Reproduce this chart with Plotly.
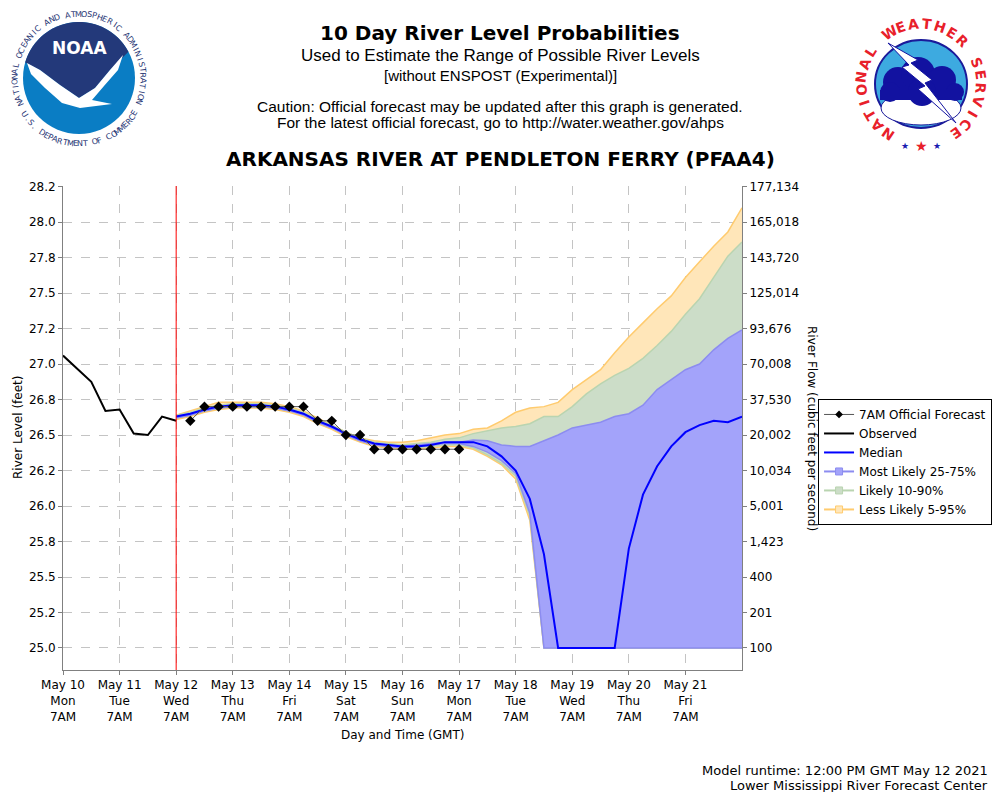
import math
import pandas as pd
import plotly.graph_objects as go

# ---- data -------------------------------------------------------------
obs_start = "2021-05-10 07:00"
fcst_start = "2021-05-12 07:00"

observed = [27.06, 26.97, 26.875, 26.67, 26.68, 26.51, 26.50, 26.63, 26.60]

# 7AM official forecast, 6-hourly from May 12 13:00
official = [26.6, 26.7, 26.7, 26.7, 26.7, 26.7, 26.7, 26.7, 26.7, 26.6,
            26.6, 26.5, 26.5, 26.4, 26.4, 26.4, 26.4, 26.4, 26.4, 26.4]

# ensemble quantiles, 6-hourly from May 12 07:00 (41 steps)
median = [26.63, 26.65, 26.68, 26.70, 26.71, 26.71, 26.71, 26.70, 26.68, 26.65,
          26.60, 26.56, 26.51, 26.47, 26.44, 26.43, 26.42, 26.42, 26.43, 26.45,
          26.45, 26.45, 26.42, 26.35, 26.25, 26.05, 25.66, 25.00, 25.00, 25.00,
          25.00, 25.00, 25.70, 26.08, 26.28, 26.42, 26.52, 26.57, 26.60, 26.59,
          26.63]
p95 = [26.64, 26.67, 26.70, 26.73, 26.73, 26.73, 26.73, 26.72, 26.70, 26.67,
       26.62, 26.57, 26.52, 26.48, 26.46, 26.45, 26.45, 26.46, 26.48, 26.50,
       26.51, 26.54, 26.55, 26.60, 26.66, 26.69, 26.70, 26.73, 26.82, 26.89,
       26.96, 27.08, 27.19, 27.29, 27.39, 27.48, 27.61, 27.72, 27.83, 27.93,
       28.10]
p90 = [26.64, 26.66, 26.69, 26.71, 26.72, 26.72, 26.72, 26.71, 26.69, 26.66,
       26.61, 26.57, 26.52, 26.48, 26.45, 26.44, 26.43, 26.44, 26.45, 26.47,
       26.48, 26.51, 26.53, 26.55, 26.56, 26.58, 26.63, 26.63, 26.70, 26.79,
       26.86, 26.92, 26.97, 27.04, 27.13, 27.23, 27.35, 27.46, 27.61, 27.76,
       27.86]
p75 = [26.63, 26.65, 26.68, 26.70, 26.71, 26.71, 26.71, 26.70, 26.68, 26.65,
       26.60, 26.56, 26.51, 26.47, 26.44, 26.43, 26.42, 26.43, 26.44, 26.45,
       26.45, 26.465, 26.46, 26.43, 26.42, 26.42, 26.46, 26.50, 26.55, 26.57,
       26.59, 26.63, 26.65, 26.71, 26.82, 26.89, 26.96, 27.00, 27.10, 27.18,
       27.24]
p25 = [26.62, 26.64, 26.67, 26.69, 26.70, 26.70, 26.70, 26.69, 26.67, 26.64,
       26.59, 26.55, 26.50, 26.46, 26.43, 26.42, 26.41, 26.42, 26.43, 26.44,
       26.44, 26.42, 26.38, 26.32, 26.23, 25.95, 25.00, 25.00, 25.00, 25.00,
       25.00, 25.00, 25.00, 25.00, 25.00, 25.00, 25.00, 25.00, 25.00, 25.00,
       25.00]
p10 = [26.62, 26.64, 26.67, 26.69, 26.70, 26.70, 26.70, 26.69, 26.67, 26.64,
       26.59, 26.55, 26.50, 26.46, 26.43, 26.42, 26.41, 26.41, 26.42, 26.43,
       26.43, 26.41, 26.36, 26.30, 26.21, 25.93, 25.00, 25.00, 25.00, 25.00,
       25.00, 25.00, 25.00, 25.00, 25.00, 25.00, 25.00, 25.00, 25.00, 25.00,
       25.00]
p5 = [26.61, 26.63, 26.66, 26.68, 26.69, 26.69, 26.69, 26.68, 26.66, 26.63,
      26.58, 26.54, 26.49, 26.45, 26.42, 26.41, 26.40, 26.40, 26.41, 26.42,
      26.42, 26.40, 26.35, 26.29, 26.19, 25.90, 25.00, 25.00, 25.00, 25.00,
      25.00, 25.00, 25.00, 25.00, 25.00, 25.00, 25.00, 25.00, 25.00, 25.00,
      25.00]

stage_ticks = [25.0, 25.25, 25.5, 25.75, 26.0, 26.25, 26.5, 26.75, 27.0,
               27.25, 27.5, 27.75, 28.0, 28.25]
stage_labels = ["25.0", "25.2", "25.5", "25.8", "26.0", "26.2", "26.5", "26.8",
                "27.0", "27.2", "27.5", "27.8", "28.0", "28.2"]
flow_labels = ["100", "201", "400", "1,423", "5,001", "10,034", "20,002",
               "37,530", "70,008", "93,676", "125,014", "143,720", "165,018",
               "177,134"]

day_ticks = pd.date_range("2021-05-10 07:00", periods=12, freq="D")
day_labels = [d.strftime("%b ") + str(d.day) + "<br>" + d.strftime("%a") + "<br>7AM"
              for d in day_ticks]

t_obs = pd.date_range(obs_start, periods=len(observed), freq="6h")
t_fc = pd.date_range(fcst_start, periods=len(median), freq="6h")
t_off = t_fc[1:len(official) + 1]

FONT = "DejaVu Sans"
ORANGE_FILL, ORANGE_LINE = "#FFE6B9", "#FFCB6E"
GREEN_FILL, GREEN_LINE = "#CCDDC8", "#B9D4B0"
BLUE_FILL, BLUE_LINE = "#A3A3FA", "#8C8CF0"

fig = go.Figure()

# bands (widest first)
for lo, hi, fc, lc in [(p5, p95, ORANGE_FILL, ORANGE_LINE),
                       (p10, p90, GREEN_FILL, GREEN_LINE),
                       (p25, p75, BLUE_FILL, BLUE_LINE)]:
    fig.add_trace(go.Scatter(x=t_fc, y=lo, mode="lines", line=dict(color=lc, width=1.5),
                             showlegend=False, hoverinfo="skip"))
    fig.add_trace(go.Scatter(x=t_fc, y=hi, mode="lines", line=dict(color=lc, width=1.5),
                             fill="tonexty", fillcolor=fc, showlegend=False, hoverinfo="skip"))

fig.add_trace(go.Scatter(x=t_obs, y=observed, mode="lines", line=dict(color="black", width=2),
                         showlegend=False))
fig.add_trace(go.Scatter(x=t_fc, y=median, mode="lines", line=dict(color="#0000FF", width=2),
                         showlegend=False))
fig.add_trace(go.Scatter(x=t_off, y=official, mode="lines+markers",
                         line=dict(color="#555555", width=1),
                         marker=dict(symbol="diamond", size=8, color="black"),
                         showlegend=False))

# legend entries
fig.add_trace(go.Scatter(x=[None], y=[None], mode="lines+markers", name="7AM Official Forecast",
                         line=dict(color="#555555", width=1),
                         marker=dict(symbol="diamond", size=6, color="black")))
fig.add_trace(go.Scatter(x=[None], y=[None], mode="lines", name="Observed",
                         line=dict(color="black", width=2)))
fig.add_trace(go.Scatter(x=[None], y=[None], mode="lines", name="Median",
                         line=dict(color="#0000FF", width=2)))
for nm, fc, lc in [("Most Likely 25-75%", BLUE_FILL, BLUE_LINE),
                   ("Likely 10-90%", GREEN_FILL, GREEN_LINE),
                   ("Less Likely 5-95%", ORANGE_FILL, ORANGE_LINE)]:
    fig.add_trace(go.Scatter(x=[None], y=[None], mode="lines+markers", name=nm,
                             line=dict(color=lc, width=2),
                             marker=dict(symbol="square", size=7, color=fc,
                                         line=dict(color=lc, width=1))))

# secondary axis carrier
fig.add_trace(go.Scatter(x=[None], y=[None], yaxis="y2", showlegend=False))

YR = [24.845, 28.254]
grid = dict(showgrid=True, gridcolor="#C4C4C4", griddash="dash", gridwidth=1)

# page body adds an 8px margin, so the figure is made smaller and margins shifted
fig.update_layout(
    width=984, height=784,
    margin=dict(l=55, r=250, t=178, b=122, autoexpand=False),
    paper_bgcolor="white", plot_bgcolor="white",
    font=dict(family=FONT, size=12, color="black"),
    xaxis=dict(type="date", range=[day_ticks[0], pd.Timestamp("2021-05-22 07:00")],
               tickvals=day_ticks, ticktext=day_labels, ticks="outside", ticklen=4,
               tickcolor="#808080", showline=True, linecolor="#808080",
               tickfont=dict(size=12), zeroline=False, automargin=False, **grid),
    yaxis=dict(range=YR, tickvals=stage_ticks, ticktext=stage_labels, ticks="outside",
               ticklen=4, tickcolor="#808080", showline=True, linecolor="#808080",
               zeroline=False, automargin=False, **grid),
    yaxis2=dict(range=YR, overlaying="y", side="right", tickvals=stage_ticks,
                ticktext=flow_labels, ticks="outside", ticklen=4, tickcolor="#808080",
                showline=True, linecolor="#808080", showgrid=False, zeroline=False,
                automargin=False),
    legend=dict(x=1.112, y=0.56, xanchor="left", yanchor="top",
                bordercolor="black", borderwidth=1, bgcolor="white", traceorder="normal",
                font=dict(size=12), tracegroupgap=0, itemwidth=30),
    showlegend=True,
)

fig.add_shape(type="line", xref="x", yref="paper", x0=fcst_start, x1=fcst_start,
              y0=0, y1=1, line=dict(color="red", width=1))


def pp(x, y):
    return (x - 63) / 679, (670 - y) / 484


def text(x, y, s, size, bold=False, family=FONT, color="black", angle=0, xanchor="center"):
    px_, py_ = pp(x, y)
    fig.add_annotation(x=px_, y=py_, xref="paper", yref="paper", showarrow=False,
                       text="<b>%s</b>" % s if bold else s, textangle=angle,
                       xanchor=xanchor, yanchor="middle",
                       font=dict(size=size, family=family, color=color))


# titles
text(500, 33, "10 Day River Level Probabilities", 20, bold=True)
text(500, 56, "Used to Estimate the Range of Possible River Levels", 17, family="Liberation Sans")
text(500, 75, "[without ENSPOST (Experimental)]", 15, family="Liberation Sans")
text(500, 106, "Caution: Official forecast may be updated after this graph is generated.", 15.5,
     family="Liberation Sans")
text(500, 122, "For the latest official forecast, go to http://water.weather.gov/ahps", 15.5,
     family="Liberation Sans")
text(500, 159, "ARKANSAS RIVER AT PENDLETON FERRY (PFAA4)", 20, bold=True)

text(18, 428, "River Level (feet)", 12, angle=-90)
text(812, 428, "River Flow (cubic feet per second)", 12, angle=90)
text(402, 735, "Day and Time (GMT)", 12)
text(990, 770, "Model runtime: 12:00 PM GMT May 12 2021", 13, xanchor="right")
text(990, 785, "Lower Mississippi River Forecast Center", 13, xanchor="right")


# ---- logos ------------------------------------------------------------
def poly(points, fill, line=None, lw=0):
    segs = []
    for k, (x, y) in enumerate(points):
        a, b = pp(x, y)
        segs.append(("M" if k == 0 else "L") + "%.5f,%.5f" % (a, b))
    fig.add_shape(type="path", xref="paper", yref="paper", path=" ".join(segs) + " Z",
                  fillcolor=fill, line=dict(color=line or fill, width=lw), layer="above")


def ellipse(cx, cy, rx, ry, fill, line=None, lw=0):
    a0, b0 = pp(cx - rx, cy + ry)
    a1, b1 = pp(cx + rx, cy - ry)
    fig.add_shape(type="circle", xref="paper", yref="paper", x0=a0, y0=b0, x1=a1, y1=b1,
                  fillcolor=fill, line=dict(color=line or fill, width=lw), layer="above")


def arc(cx, cy, r, t0, t1, n=30):
    return [(cx + r * math.cos(math.radians(t0 + (t1 - t0) * k / n)),
             cy - r * math.sin(math.radians(t0 + (t1 - t0) * k / n))) for k in range(n + 1)]


def ring(cx, cy, r, s, t0, t1, size, color, bold=False, inward=False):
    n = len(s)
    for k, ch in enumerate(s):
        if ch == " ":
            continue
        t = t0 + (t1 - t0) * k / (n - 1)
        x = cx + r * math.cos(math.radians(t))
        y = cy - r * math.sin(math.radians(t))
        ang = (270 - t) if inward else (90 - t)
        text(x, y, ch, size, bold=bold, color=color, angle=ang)


# NOAA
ncx, ncy = 79, 78
ellipse(ncx, ncy, 56, 56, "#0A7DC4")
navy = arc(ncx, ncy, 56, 164, 28) + [(110, 70), (95, 88), (79, 98), (60, 85), (40, 70)]
poly(navy, "#23397A")
gull = [(27, 63), (40, 70), (60, 85), (79, 98), (95, 88), (110, 70), (123, 55),
        (118, 70), (104, 86), (92, 100), (112, 104), (80, 108), (62, 103), (45, 88), (31, 74)]
poly(gull, "white")
text(ncx, 48, "NOAA", 17, bold=True, color="white")
ring(ncx, ncy, 64, "NATIONAL OCEANIC AND ATMOSPHERIC ADMINISTRATION", 203, -22, 8, "#1F3574")
ring(ncx, ncy, 66, "U.S. DEPARTMENT OF COMMERCE", 214, 328, 8, "#1F3574", inward=True)

# NWS
wcx, wcy = 921, 84
ellipse(wcx, wcy, 46, 44, "#3DAAE0", line="#1A1A9A", lw=2)
ellipse(wcx, 108, 40, 17, "white", line="#1A1A9A", lw=1)
for cx_, cy_, r_ in [(898, 82, 15), (918, 74, 17), (942, 80, 14), (890, 92, 10),
                     (955, 92, 9), (922, 92, 14)]:
    ellipse(cx_, cy_, r_, r_, "#1212A0")
poly([(880, 90), (962, 90), (962, 100), (880, 100)], "#1212A0")
poly([(888, 43), (918, 60), (911, 63), (932, 80), (925, 83), (956, 123),
      (918, 89), (925, 86), (902, 67), (909, 65)], "white", line="#1212A0", lw=1)
ring(wcx, wcy, 60, "NATIONAL WEATHER SERVICE", 236, -55, 14, "#E8202A", bold=True)
text(905, 146, "★", 9, color="#1A1AB0")
text(921, 146, "★", 14, color="#E8202A")
text(937, 146, "★", 9, color="#1A1AB0")

fig.write_html("out.html")
